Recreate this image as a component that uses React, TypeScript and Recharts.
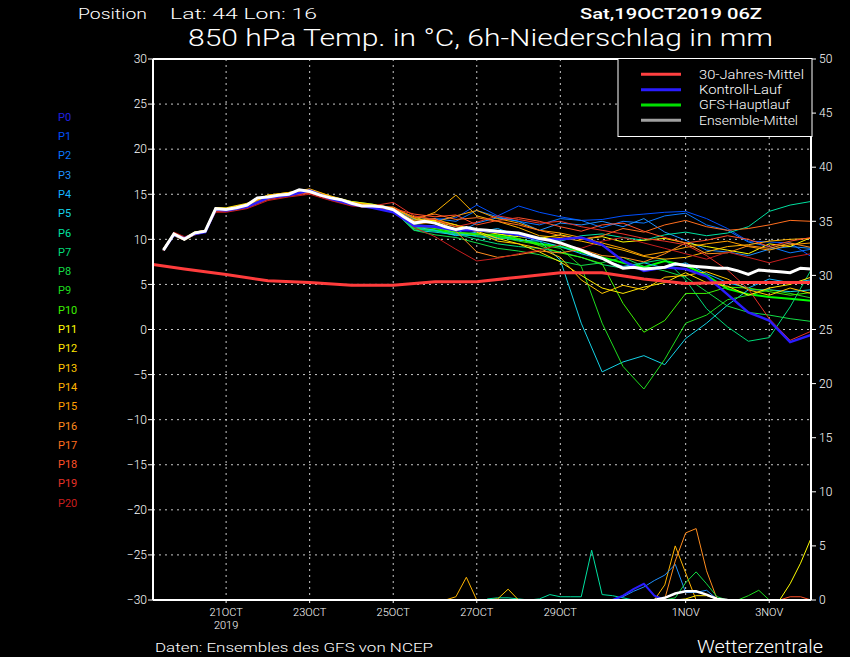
import React from "react";
import { ComposedChart, Line, XAxis, YAxis, CartesianGrid, ReferenceLine } from "recharts";

// ---------- time axes (hours after 19OCT2019 00Z) ----------
const X_TICKS = [48, 96, 144, 192, 240, 312, 360];
const X_LABELS = ["21OCT", "23OCT", "25OCT", "27OCT", "29OCT", "1NOV", "3NOV"];
const TEMP_TICKS = [-30, -25, -20, -15, -10, -5, 0, 5, 10, 15, 20, 25, 30];
const PRECIP_TICKS = [0, 5, 10, 15, 20, 25, 30, 35, 40, 45, 50];

const MEAN_HOURS = [12, 18, 24, 30, 36, 42, 48, 54, 60, 66, 72, 78, 84, 90, 96, 102, 108, 114, 120, 126, 132, 138, 144, 150, 156, 162, 168, 174, 180, 186, 192, 198, 204, 210, 216, 222, 228, 234, 240, 246, 252, 258, 264, 270, 276, 282, 288, 294, 300, 306, 312, 318, 324, 330, 336, 342, 348, 354, 360, 366, 372, 378, 384];
const MEMBER_HOURS = [12, 18, 24, 30, 36, 42, 48, 60, 72, 84, 96, 108, 120, 132, 144, 156, 168, 180, 192, 204, 216, 228, 240, 252, 264, 276, 288, 300, 312, 324, 336, 348, 360, 372, 384];
const CLIM_HOURS = [6, 24, 48, 72, 96, 120, 144, 168, 192, 216, 240, 264, 288, 312, 336, 360, 384];

// ---------- 850 hPa temperature (°C) ----------
const ENS_MEAN = [8.8, 10.6, 10.0, 10.7, 10.9, 13.4, 13.3, 13.5, 13.8, 14.6, 14.7, 14.9, 15.0, 15.5, 15.3, 14.9, 14.6, 14.4, 14.0, 13.7, 13.7, 13.6, 13.3, 12.5, 11.8, 12.0, 11.8, 11.4, 11.1, 11.3, 11.1, 11.0, 10.9, 10.8, 10.7, 10.4, 10.1, 9.9, 9.6, 9.2, 8.8, 8.3, 7.9, 7.3, 6.8, 6.9, 6.7, 6.8, 6.9, 7.3, 7.1, 7.0, 6.9, 6.8, 6.8, 6.5, 6.1, 6.6, 6.5, 6.4, 6.3, 6.8, 6.7];
const CLIM_30Y = [7.2, 6.7, 6.1, 5.4, 5.2, 4.9, 4.9, 5.3, 5.3, 5.8, 6.3, 6.3, 5.6, 5.1, 5.2, 5.2, 5.2];

const P0 = [8.8, 10.5, 10.1, 10.6, 10.8, 13.3, 13.2, 13.6, 14.6, 14.9, 15.4, 14.5, 13.9, 13.5, 13.0, 11.5, 11.4, 11.0, 11.0, 10.8, 10.5, 10.0, 10.0, 10.2, 9.4, 7.6, 6.5, 6.9, 6.7, 5.9, 3.9, 1.9, 1.0, -1.4, -0.6];
const P1 = [8.9, 10.6, 10.2, 10.7, 10.9, 13.2, 13.1, 13.5, 14.5, 15.1, 15.2, 14.4, 13.8, 13.5, 13.1, 11.9, 12.2, 12.4, 13.8, 12.6, 13.7, 13.0, 12.5, 12.1, 12.2, 12.6, 12.8, 13.0, 13.1, 12.3, 11.2, 9.8, 9.7, 9.6, 8.1];
const P2 = [8.7, 10.4, 10.0, 10.6, 11.0, 13.4, 13.4, 13.9, 14.8, 15.1, 15.3, 14.7, 14.1, 13.8, 13.4, 12.2, 12.3, 12.0, 13.2, 12.5, 12.0, 11.6, 12.3, 12.1, 11.3, 12.0, 11.8, 12.6, 12.9, 11.6, 11.0, 9.7, 9.2, 8.5, 8.9];
const P3 = [8.8, 10.5, 10.1, 10.7, 10.9, 13.3, 13.2, 13.8, 14.6, 15.0, 15.2, 14.6, 14.0, 13.6, 13.2, 11.6, 11.5, 10.6, 11.8, 12.4, 12.0, 11.0, 11.8, 11.6, 12.0, 11.4, 12.3, 10.8, 9.9, 8.8, 8.6, 8.2, 8.9, 9.2, 9.0];
const P4 = [8.8, 10.6, 9.9, 10.7, 10.8, 13.4, 13.3, 13.7, 14.7, 14.9, 15.2, 14.5, 13.9, 13.6, 13.3, 11.4, 11.0, 10.4, 10.8, 11.2, 10.4, 9.8, 9.2, 8.4, 7.8, 7.0, 7.4, 6.8, 7.4, 6.2, 5.2, 4.6, 5.6, 5.2, 5.5];
const P5 = [8.8, 10.6, 10.0, 10.6, 10.9, 13.4, 13.2, 13.8, 14.6, 15.0, 15.3, 14.6, 14.0, 13.7, 13.2, 11.0, 10.8, 10.5, 10.4, 10.2, 9.9, 9.8, 7.7, 0.7, -4.7, -3.6, -2.9, -3.9, -1.0, 0.7, 2.7, 4.4, 4.4, 4.2, 4.4];
const P6 = [8.8, 10.5, 10.0, 10.7, 10.9, 13.4, 13.3, 13.8, 14.7, 15.1, 15.4, 14.7, 14.2, 13.9, 13.3, 11.5, 11.3, 10.8, 10.3, 10.0, 10.4, 10.2, 9.8, 10.4, 10.6, 10.2, 9.9, 10.5, 10.8, 10.4, 10.7, 11.4, 13.1, 13.8, 14.2];
const P7 = [8.8, 10.5, 10.1, 10.6, 11.0, 13.3, 13.2, 13.7, 14.5, 14.9, 15.2, 14.5, 13.9, 13.5, 13.1, 11.2, 10.9, 10.6, 10.0, 9.5, 9.2, 9.0, 8.6, 8.0, 7.2, 6.8, 7.4, 7.8, 5.5, 2.3, 0.3, -1.3, -0.9, 2.5, 6.6];
const P8 = [8.8, 10.4, 10.0, 10.6, 10.8, 13.3, 13.3, 13.8, 14.6, 15.0, 15.3, 14.6, 14.0, 13.6, 13.2, 11.0, 10.5, 10.2, 9.6, 9.0, 8.7, 8.3, 7.6, 7.1, 7.4, 8.0, 7.0, 6.5, 5.8, 4.2, 2.6, 1.9, 1.6, 1.2, 0.9];
const P9 = [8.8, 10.5, 10.0, 10.7, 10.9, 13.4, 13.3, 13.8, 14.7, 15.0, 15.3, 14.6, 14.0, 13.7, 13.3, 11.6, 11.4, 10.8, 10.6, 10.3, 9.8, 9.4, 9.0, 7.0, 0.7, -4.1, -6.6, -3.3, 0.7, 1.6, 3.3, 3.8, 4.4, 4.0, 3.5];
const P10 = [8.8, 10.5, 10.0, 10.6, 10.9, 13.3, 13.3, 13.8, 14.7, 15.0, 15.3, 14.6, 14.0, 13.7, 13.3, 11.4, 11.2, 10.8, 10.5, 10.6, 10.1, 9.3, 8.5, 8.0, 7.3, 2.9, -0.3, 1.0, 4.0, 4.0, 4.7, 4.6, 4.2, 3.8, 4.1];
const P11 = [8.9, 10.6, 10.1, 10.8, 11.0, 13.5, 13.4, 13.9, 14.8, 15.1, 15.4, 14.7, 14.1, 13.8, 13.4, 12.0, 12.1, 11.6, 11.0, 10.6, 10.3, 10.1, 10.5, 10.0, 10.3, 9.7, 9.9, 10.1, 9.6, 9.2, 8.8, 8.4, 9.5, 9.2, 10.2];
const P12 = [9.0, 10.7, 10.2, 10.8, 11.0, 13.5, 13.5, 14.0, 14.9, 15.2, 15.5, 14.8, 14.2, 13.9, 13.5, 12.3, 12.0, 11.4, 10.9, 10.1, 9.5, 8.6, 7.5, 6.0, 4.6, 4.0, 4.7, 5.2, 6.3, 5.2, 4.8, 3.8, 4.6, 5.0, 5.8];
const P13 = [9.0, 10.6, 10.1, 10.7, 11.0, 13.5, 13.4, 13.9, 14.8, 15.1, 15.4, 14.7, 14.1, 13.8, 13.4, 12.5, 12.2, 11.6, 10.8, 9.8, 9.5, 9.0, 8.0, 5.5, 4.0, 4.9, 4.4, 5.8, 6.0, 6.4, 5.6, 4.4, 3.8, 4.6, 4.0];
const P14 = [8.9, 10.6, 10.1, 10.7, 11.0, 13.4, 13.4, 13.9, 14.9, 15.2, 15.6, 14.8, 14.1, 13.8, 13.2, 12.1, 13.0, 14.9, 12.6, 12.0, 11.3, 10.4, 10.2, 9.8, 9.3, 8.8, 8.1, 7.8, 8.0, 8.6, 9.2, 9.4, 9.8, 10.0, 10.1];
const P15 = [8.9, 10.5, 10.0, 10.6, 10.9, 13.3, 13.3, 13.8, 14.8, 15.1, 15.5, 14.7, 14.1, 13.7, 13.1, 11.7, 11.9, 12.6, 13.2, 12.3, 11.8, 11.0, 10.7, 10.2, 9.6, 9.0, 8.2, 8.6, 9.1, 9.5, 9.8, 9.2, 8.8, 9.4, 9.6];
const P16 = [8.8, 10.4, 9.9, 10.5, 10.8, 13.2, 13.1, 13.6, 14.5, 14.9, 15.2, 14.5, 13.9, 13.6, 13.4, 12.0, 12.3, 10.9, 8.6, 8.0, 8.3, 8.7, 8.5, 8.9, 8.2, 8.0, 7.5, 8.4, 9.6, 8.4, 8.5, 9.3, 9.0, 9.6, 9.1];
const P17 = [8.8, 10.6, 10.1, 10.6, 10.9, 13.2, 13.2, 13.7, 14.6, 15.0, 15.2, 14.5, 13.9, 13.6, 13.6, 12.4, 12.8, 12.2, 12.4, 12.0, 11.6, 11.0, 10.4, 10.0, 10.4, 11.2, 10.8, 11.6, 12.1, 11.4, 11.0, 11.2, 11.6, 12.1, 12.0];
const P18 = [8.8, 10.7, 10.2, 10.7, 11.0, 13.2, 13.2, 13.6, 14.5, 14.9, 15.2, 14.4, 13.8, 13.7, 13.4, 12.8, 12.5, 12.7, 11.6, 12.1, 12.4, 12.0, 11.4, 10.9, 11.6, 11.8, 10.9, 10.2, 9.6, 9.9, 10.4, 10.0, 9.2, 9.8, 10.2];
const P19 = [8.8, 10.6, 10.1, 10.6, 10.9, 13.1, 13.1, 13.5, 14.4, 14.8, 15.1, 14.4, 13.8, 13.7, 14.1, 12.6, 12.2, 11.4, 11.9, 12.6, 12.2, 11.8, 12.0, 11.4, 11.0, 10.6, 10.1, 9.8, 9.4, 8.2, 6.6, 4.5, 1.2, -1.2, -0.2];
const P20 = [8.7, 10.8, 10.3, 10.5, 10.8, 13.0, 13.0, 13.4, 14.3, 14.7, 15.0, 14.3, 13.7, 13.5, 13.4, 11.3, 10.3, 8.9, 7.6, 7.9, 8.4, 8.8, 9.4, 9.0, 9.8, 10.2, 9.6, 9.0, 8.4, 7.8, 8.6, 8.0, 7.4, 8.0, 8.4];
const GFS_MAIN = [8.8, 10.6, 10.0, 10.7, 10.9, 13.4, 13.3, 13.8, 14.7, 15.0, 15.3, 14.6, 14.0, 13.7, 13.3, 11.2, 11.0, 10.7, 10.6, 10.4, 10.0, 9.5, 9.2, 8.6, 8.0, 7.4, 6.9, 7.6, 7.1, 6.0, 4.5, 3.9, 3.6, 3.4, 3.2];

// ---------- 6h precipitation (mm), only the hours where a member leaves zero ----------
const PR_P14_H = [174, 180, 186, 192, 294, 300, 306, 312, 318];
const PR_P14 = [0, 0.3, 2.1, 0, 0, 1.4, 5.0, 2.5, 0];
const PR_P13_H = [198, 204, 210, 216];
const PR_P13 = [0, 0.1, 1.0, 0];
const PR_P6_H = [198, 204, 210, 216, 222, 228, 234, 240, 246, 252, 258, 264, 270, 276, 282];
const PR_P6 = [0.1, 0.2, 0.2, 0.1, 0, 0.1, 0.5, 0.3, 0.3, 0.3, 4.6, 0.5, 0.4, 0.2, 0];
const PR_P0_H = [270, 276, 282, 288, 294, 300];
const PR_P0 = [0, 0.4, 1.0, 1.5, 0.4, 0];
const PR_P3_H = [270, 276, 282, 288, 294, 300, 306, 312, 318, 324, 330, 336];
const PR_P3 = [0, 0.3, 0.8, 1.2, 1.8, 2.3, 3.3, 0.7, 0.7, 0.9, 0.1, 0];
const PR_P16_H = [300, 306, 312, 318, 324, 330, 336];
const PR_P16 = [0.1, 3.6, 6.2, 6.6, 2.7, 0.1, 0];
const PR_P8_H = [300, 306, 312, 318, 324, 330, 336];
const PR_P8 = [0, 0.2, 1.6, 2.6, 1.5, 0.3, 0];
const PR_P12_H = [306, 312, 318, 324, 330, 336];
const PR_P12 = [0, 0.1, 0.4, 0.4, 0.1, 0];
const PR_P9_H = [342, 348, 354, 360];
const PR_P9 = [0, 0.4, 0.9, 0];
const PR_P11_H = [366, 372, 378, 384];
const PR_P11 = [0, 1.5, 3.4, 5.7];
const PR_P18_H = [366, 372, 378, 384];
const PR_P18 = [0, 0.3, 0.3, 0];
const PR_MEAN_H = [294, 300, 306, 312, 318, 324, 330, 336];
const PR_MEAN = [0, 0.2, 0.6, 0.8, 0.8, 0.5, 0.1, 0];

// ---------- colours ----------
const MEMBER_COLORS = ["#2a1cff", "#0050ff", "#0a78ff", "#1e90ff", "#14b4ff", "#14d2e6", "#00e0a0", "#00dc78", "#14dc46", "#1edc1e", "#3cf000", "#ffff00", "#ffe600", "#ffc800", "#ffb400", "#ffa000", "#ff8c1e", "#ff6e1e", "#ff5028", "#e63228", "#c81e1e"];
const LABEL_COLORS = ["#2020e0", "#0050ff", "#0a78ff", "#1e90ff", "#14b4ff", "#14d2e6", "#00e0a0", "#00dc78", "#14dc46", "#1edc1e", "#3cf000", "#ffff00", "#ffe600", "#ffc800", "#ffb400", "#ffa000", "#ff8c1e", "#ff6e1e", "#ff5028", "#e63228", "#c81e1e"];
const MEMBER_NAMES = ["P0", "P1", "P2", "P3", "P4", "P5", "P6", "P7", "P8", "P9", "P10", "P11", "P12", "P13", "P14", "P15", "P16", "P17", "P18", "P19", "P20"];
const MEMBER_VALUES = [P0, P1, P2, P3, P4, P5, P6, P7, P8, P9, P10, P11, P12, P13, P14, P15, P16, P17, P18, P19, P20];

const LEGEND_ITEMS = ["30-Jahres-Mittel", "Kontroll-Lauf", "GFS-Hauptlauf", "Ensemble-Mittel"];
const LEGEND_COLORS = ["#ff4040", "#2a1cff", "#00e000", "#a0a0a0"];
const LEGEND_WIDTHS = [105, 83, 91, 99];

const PRECIP_SERIES = [
  { key: "prP6", color: MEMBER_COLORS[6], w: 1, h: PR_P6_H, v: PR_P6 },
  { key: "prP13", color: MEMBER_COLORS[13], w: 1, h: PR_P13_H, v: PR_P13 },
  { key: "prP14", color: MEMBER_COLORS[14], w: 1, h: PR_P14_H, v: PR_P14 },
  { key: "prP3", color: MEMBER_COLORS[3], w: 1, h: PR_P3_H, v: PR_P3 },
  { key: "prP16", color: MEMBER_COLORS[16], w: 1, h: PR_P16_H, v: PR_P16 },
  { key: "prP8", color: MEMBER_COLORS[8], w: 1, h: PR_P8_H, v: PR_P8 },
  { key: "prP12", color: MEMBER_COLORS[12], w: 1, h: PR_P12_H, v: PR_P12 },
  { key: "prP9", color: MEMBER_COLORS[9], w: 1, h: PR_P9_H, v: PR_P9 },
  { key: "prP11", color: MEMBER_COLORS[11], w: 1, h: PR_P11_H, v: PR_P11 },
  { key: "prP18", color: MEMBER_COLORS[18], w: 1, h: PR_P18_H, v: PR_P18 },
  { key: "prP0", color: MEMBER_COLORS[0], w: 2, h: PR_P0_H, v: PR_P0 },
  { key: "prMean", color: "#ffffff", w: 2.5, h: PR_MEAN_H, v: PR_MEAN },
];

// ---------- build the table ----------
const rowMap: Record<number, any> = {};
function put(key: string, hours: number[], vals: number[]) {
  hours.forEach((h, i) => {
    if (!rowMap[h]) rowMap[h] = { h };
    rowMap[h][key] = vals[i];
  });
}
MEMBER_VALUES.forEach((vals, i) => put(MEMBER_NAMES[i], MEMBER_HOURS, vals));
put("gfs", MEMBER_HOURS, GFS_MAIN);
put("mean", MEAN_HOURS, ENS_MEAN);
put("clim", CLIM_HOURS, CLIM_30Y);
PRECIP_SERIES.forEach((s) => put(s.key, s.h, s.v));
const DATA = Object.values(rowMap).sort((a: any, b: any) => a.h - b.h);

const fmtNum = (v: number) => (v < 0 ? "\u2212" + Math.abs(v) : String(v));

const XTick = (props: any) => {
  const { x, y, payload } = props;
  const i = X_TICKS.indexOf(payload.value);
  return (
    <g>
      <text x={x} y={y + 11} textAnchor="middle" fill="#fff" fontSize={11} fontWeight={300}>
        {X_LABELS[i]}
      </text>
      {i === 0 && (
        <text x={x} y={y + 24} textAnchor="middle" fill="#fff" fontSize={11} fontWeight={300}>
          2019
        </text>
      )}
    </g>
  );
};

export default function App() {
  const font = "Roboto, 'Liberation Sans', Arial, sans-serif";
  return (
    <div style={{ position: "absolute", left: 0, top: 0, width: 850, height: 657, background: "#000", fontFamily: font, overflow: "hidden" }}>
      <ComposedChart width={850} height={657} data={DATA} margin={{ top: 59, right: 0, bottom: 17, left: 93 }}>
        <CartesianGrid yAxisId="t" stroke="#c8c8c8" strokeDasharray="2 4" />
        <XAxis
          dataKey="h"
          type="number"
          domain={[6, 384]}
          ticks={X_TICKS}
          allowDataOverflow
          height={40}
          axisLine={{ stroke: "#fff", strokeWidth: 2 }}
          tickLine={{ stroke: "#fff" }}
          tickSize={3}
          tick={(p: any) => <XTick {...p} />}
        />
        <YAxis
          yAxisId="t"
          domain={[-30, 30]}
          ticks={TEMP_TICKS}
          allowDataOverflow
          width={60}
          axisLine={{ stroke: "#fff", strokeWidth: 2 }}
          tickLine={{ stroke: "#fff" }}
          tickSize={5}
          tickMargin={1}
          tick={{ fill: "#fff", fontSize: 12, fontWeight: 300 }}
          tickFormatter={fmtNum}
        />
        <YAxis
          yAxisId="p"
          orientation="right"
          domain={[0, 50]}
          ticks={PRECIP_TICKS}
          allowDataOverflow
          width={39}
          axisLine={{ stroke: "#fff", strokeWidth: 2 }}
          tickLine={{ stroke: "#fff" }}
          tickSize={5}
          tickMargin={3}
          tick={{ fill: "#fff", fontSize: 12, fontWeight: 300 }}
        />
        <ReferenceLine yAxisId="t" y={30} stroke="#fff" strokeWidth={2} />
        <Line yAxisId="t" dataKey="gfs" stroke="#00ff00" strokeWidth={2} dot={false} activeDot={false} connectNulls isAnimationActive={false} />
        {MEMBER_NAMES.slice(1).map((name, i) => (
          <Line
            key={name}
            yAxisId="t"
            dataKey={name}
            stroke={MEMBER_COLORS[i + 1]}
            strokeWidth={1}
            dot={false}
            activeDot={false}
            connectNulls
            isAnimationActive={false}
          />
        ))}
        <Line yAxisId="t" dataKey="P0" stroke={MEMBER_COLORS[0]} strokeWidth={2.5} dot={false} activeDot={false} connectNulls isAnimationActive={false} />
        <Line yAxisId="t" dataKey="clim" stroke="#ff3c3c" strokeWidth={3} dot={false} activeDot={false} connectNulls isAnimationActive={false} />
        <Line yAxisId="t" dataKey="mean" stroke="#ffffff" strokeWidth={3} dot={false} activeDot={false} connectNulls isAnimationActive={false} />
        {PRECIP_SERIES.map((s) => (
          <Line
            key={s.key}
            yAxisId="p"
            dataKey={s.key}
            stroke={s.color}
            strokeWidth={s.w}
            dot={false}
            activeDot={false}
            connectNulls
            isAnimationActive={false}
          />
        ))}
      </ComposedChart>
      <svg width={850} height={657} style={{ position: "absolute", left: 0, top: 0, pointerEvents: "none", fontFamily: font }}>
        <text x={78} y={19} fill="#fff" fontSize={14} fontWeight={300} textLength={69} lengthAdjust="spacingAndGlyphs">Position</text>
        <text x={170} y={19} fill="#fff" fontSize={14} fontWeight={300} textLength={147} lengthAdjust="spacingAndGlyphs">Lat: 44 Lon: 16</text>
        <text x={580} y={19} fill="#fff" fontSize={14} fontWeight={500} textLength={182} lengthAdjust="spacingAndGlyphs">Sat,19OCT2019 06Z</text>
        <text x={188} y={46} fill="#fff" fontSize={24} fontWeight={300} textLength={585} lengthAdjust="spacingAndGlyphs">850 hPa Temp. in °C, 6h-Niederschlag in mm</text>

        <rect x={618} y={58.5} width={194} height={78} fill="#000" stroke="#fff" strokeWidth={1} />
        {LEGEND_ITEMS.map((t, i) => (
          <g key={t}>
            <line x1={641} x2={681} y1={74.3 + i * 15.35} y2={74.3 + i * 15.35} stroke={LEGEND_COLORS[i]} strokeWidth={3} />
            <text x={699} y={78.5 + i * 15.35} fill="#fff" fontSize={12} fontWeight={300} textLength={LEGEND_WIDTHS[i]} lengthAdjust="spacingAndGlyphs">{t}</text>
          </g>
        ))}

        {MEMBER_NAMES.map((n, i) => (
          <text key={n} x={58} y={120.7 + i * 19.3} fill={LABEL_COLORS[i]} fontSize={11}>{n}</text>
        ))}

        <text x={155} y={652} fill="#fff" fontSize={13} fontWeight={300} textLength={278} lengthAdjust="spacingAndGlyphs">Daten: Ensembles des GFS von NCEP</text>
        <text x={697} y={653} fill="#fff" fontSize={18} fontWeight={300} textLength={126} lengthAdjust="spacingAndGlyphs">Wetterzentrale</text>
      </svg>
    </div>
  );
}
